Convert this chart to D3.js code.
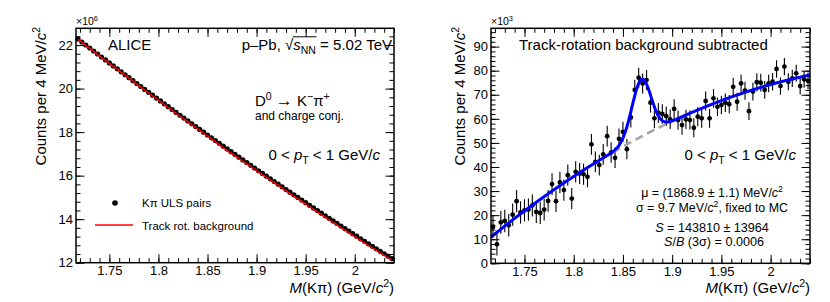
<!DOCTYPE html>
<html>
<head>
<meta charset="utf-8">
<script src="https://cdn.jsdelivr.net/npm/d3@7"></script>
<style>
  body { margin: 0; background: #fff; }
  svg { display: block; font-family: "Liberation Sans", Arial, Helvetica, sans-serif; }
</style>
</head>
<body>
<script>
var width = 830;
var height = 302;

// bin centres, 4 MeV/c2 bins from 1.716 to 2.040 GeV/c2
var massBins = d3.range(81).map(function(i) { return 1.718 + 0.004 * i; });

// K-pi ULS pair counts per bin (x10^6)
var ulsCounts = [
  22.280, 22.141, 22.003, 21.864, 21.727, 21.589, 21.452, 21.315, 21.178, 21.042,
  20.906, 20.770, 20.635, 20.500, 20.365, 20.231, 20.097, 19.963, 19.830, 19.697,
  19.564, 19.432, 19.299, 19.168, 19.036, 18.905, 18.774, 18.644, 18.513, 18.384,
  18.254, 18.125, 17.996, 17.867, 17.739, 17.611, 17.483, 17.356, 17.229, 17.102,
  16.976, 16.850, 16.724, 16.599, 16.474, 16.349, 16.225, 16.100, 15.977, 15.853,
  15.730, 15.607, 15.485, 15.362, 15.241, 15.119, 14.998, 14.877, 14.756, 14.636,
  14.516, 14.396, 14.277, 14.158, 14.039, 13.921, 13.803, 13.685, 13.568, 13.451,
  13.334, 13.218, 13.101, 12.986, 12.870, 12.755, 12.640, 12.526, 12.411, 12.298,
  12.184
];

// background-subtracted counts per bin (x10^3)
var subCounts = [
  15.1, 7.9, 17.0, 17.6, 15.8, 20.2, 25.8, 21.1, 22.0, 22.3,
  24.0, 21.3, 20.9, 22.3, 25.9, 32.9, 25.8, 33.6, 30.4, 36.6,
  26.9, 38.0, 37.3, 37.0, 35.9, 49.4, 42.1, 40.8, 45.2, 52.8,
  46.0, 43.8, 51.7, 54.6, 47.4, 60.6, 72.0, 77.1, 74.7, 76.1,
  66.7, 60.2, 62.5, 62.0, 61.1, 59.8, 64.1, 59.5, 57.4, 59.8,
  59.5, 56.3, 60.9, 60.2, 67.4, 60.2, 68.5, 65.0, 65.7, 66.7,
  66.1, 73.3, 67.1, 74.7, 71.7, 63.2, 71.3, 75.2, 75.0, 72.0,
  74.7, 75.4, 80.7, 73.6, 81.7, 75.4, 76.8, 78.9, 73.6, 76.4,
  75.8
];

// statistical errors (x10^3) from the ULS counts
var subErrors = ulsCounts.map(function(v) { return Math.sqrt(v * 1e6) / 1e3; });

// track-rotation background = ULS - subtracted (x10^6)
var rotBackground = ulsCounts.map(function(v, i) { return v - subCounts[i] / 1000; });

// fit: pol2 background around m0 + gaussian (x10^3 per bin)
var bgCoef = [54.6, 207.7, -383];
var bgRef = 1.878;
var gausPar = [23.7, 1.8689, 0.0097];

var xTicks = [1.75, 1.8, 1.85, 1.9, 1.95, 2];
var yTicksLeft = [12, 14, 16, 18, 20, 22];
var yTicksRight = [0, 10, 20, 30, 40, 50, 60, 70, 80, 90];

var svg = d3.select("body").append("svg")
  .attr("width", width)
  .attr("height", height);

svg.append("rect").attr("width", width).attr("height", height).attr("fill", "#fff");

var xL = d3.scaleLinear().domain([1.716, 2.04]).range([76, 394]);
var yL = d3.scaleLinear().domain([12, 22.77]).range([262.7, 28.3]);
var xR = d3.scaleLinear().domain([1.716, 2.04]).range([491, 810]);
var yR = d3.scaleLinear().domain([0, 97.6]).range([263.3, 28.3]);

function fitBg(m) {
  var t = m - bgRef;
  return bgCoef[0] + bgCoef[1] * t + bgCoef[2] * t * t;
}
function fitTotal(m) {
  var z = (m - gausPar[1]) / gausPar[2];
  return fitBg(m) + gausPar[0] * Math.exp(-0.5 * z * z);
}

// text with sub/superscripts
function rich(sel, parts, size) {
  var cur = 0;
  parts.forEach(function(p) {
    if (typeof p === "string") p = { t: p };
    var shift = p.sup ? -0.38 * size : (p.sub ? 0.28 * size : 0);
    var ts = sel.append("tspan").text(p.t).attr("dy", shift - cur);
    cur = shift;
    if (p.sup || p.sub) ts.attr("font-size", size * 0.7);
    if (p.it) ts.attr("font-style", "italic");
    if (p.big) ts.attr("font-size", p.big);
  });
  return sel;
}

function label(x, y, size, parts, anchor) {
  var t = svg.append("text")
    .attr("x", x).attr("y", y)
    .attr("font-size", size)
    .attr("text-anchor", anchor || "start")
    .attr("fill", "#000");
  return rich(t, parts, size);
}

function frame(x, y, xTickVals, yTickVals, yMinorStep, yFmt) {
  var x0 = x.range()[0], x1 = x.range()[1];
  var y0 = y.range()[1], y1 = y.range()[0];
  var xMinor = d3.range(1.72, 2.0401, 0.01);
  var yMinor = d3.range(y.domain()[0], y.domain()[1], yMinorStep);
  var g = svg.append("g");

  g.append("g").attr("transform", "translate(0," + y1 + ")")
    .call(d3.axisBottom(x).tickValues(xTickVals).tickSize(-8.5).tickPadding(3)
      .tickFormat(function(d) { return String(+d.toFixed(2)); }));
  g.append("g").attr("transform", "translate(0," + y1 + ")")
    .call(d3.axisBottom(x).tickValues(xMinor).tickSize(-4.5).tickFormat(""));
  g.append("g").attr("transform", "translate(0," + y0 + ")")
    .call(d3.axisTop(x).tickValues(xTickVals).tickSize(-8.5).tickFormat(""));
  g.append("g").attr("transform", "translate(0," + y0 + ")")
    .call(d3.axisTop(x).tickValues(xMinor).tickSize(-4.5).tickFormat(""));

  g.append("g").attr("transform", "translate(" + x0 + ",0)")
    .call(d3.axisLeft(y).tickValues(yTickVals).tickSize(-8.5).tickPadding(3).tickFormat(yFmt));
  g.append("g").attr("transform", "translate(" + x0 + ",0)")
    .call(d3.axisLeft(y).tickValues(yMinor).tickSize(-4.5).tickFormat(""));
  g.append("g").attr("transform", "translate(" + x1 + ",0)")
    .call(d3.axisRight(y).tickValues(yTickVals).tickSize(-8.5).tickFormat(""));
  g.append("g").attr("transform", "translate(" + x1 + ",0)")
    .call(d3.axisRight(y).tickValues(yMinor).tickSize(-4.5).tickFormat(""));

  g.selectAll(".domain").remove();
  g.selectAll(".tick line").attr("stroke", "#000").attr("stroke-width", 1);
  g.selectAll("text")
    .attr("font-size", 13)
    .attr("font-family", "'Liberation Sans', Arial, Helvetica, sans-serif")
    .attr("fill", "#000");

  g.append("rect")
    .attr("x", x0).attr("y", y0)
    .attr("width", x1 - x0).attr("height", y1 - y0)
    .attr("fill", "none").attr("stroke", "#000").attr("stroke-width", 1.5);
}

// ---------- left panel ----------
var dotsL = svg.append("g");
dotsL.selectAll("line")
  .data(massBins).enter().append("line")
  .attr("x1", function(d) { return xL(d); })
  .attr("x2", function(d) { return xL(d); })
  .attr("y1", function(d, i) { return yL(ulsCounts[i] - subErrors[i] / 1000); })
  .attr("y2", function(d, i) { return yL(ulsCounts[i] + subErrors[i] / 1000); })
  .attr("stroke", "#000");
dotsL.selectAll("circle")
  .data(massBins).enter().append("circle")
  .attr("cx", function(d) { return xL(d); })
  .attr("cy", function(d, i) { return yL(ulsCounts[i]); })
  .attr("r", 2.6)
  .attr("fill", "#000");

svg.append("path")
  .datum(massBins)
  .attr("fill", "none")
  .attr("stroke", "#ff0000")
  .attr("stroke-width", 1.5)
  .attr("d", d3.line()
    .x(function(d) { return xL(d); })
    .y(function(d, i) { return yL(rotBackground[i]); }));

frame(xL, yL, xTicks, yTicksLeft, 0.4, function(d) { return d; });

// ---------- right panel ----------
svg.append("clipPath").attr("id", "clipR")
  .append("rect").attr("x", 491).attr("y", 28.3).attr("width", 319).attr("height", 235);

var ptsR = svg.append("g");
ptsR.selectAll("line")
  .data(massBins).enter().append("line")
  .attr("x1", function(d) { return xR(d); })
  .attr("x2", function(d) { return xR(d); })
  .attr("y1", function(d, i) { return yR(subCounts[i] - subErrors[i]); })
  .attr("y2", function(d, i) { return yR(subCounts[i] + subErrors[i]); })
  .attr("stroke", "#000")
  .attr("stroke-width", 1.1);
ptsR.selectAll("circle")
  .data(massBins).enter().append("circle")
  .attr("cx", function(d) { return xR(d); })
  .attr("cy", function(d, i) { return yR(subCounts[i]); })
  .attr("r", 2.4)
  .attr("fill", "#000");

var fineMass = d3.range(1.716, 2.0401, 0.0005);
var bgMass = d3.range(gausPar[1] - 3 * gausPar[2], gausPar[1] + 3 * gausPar[2], 0.0005);

svg.append("path")
  .datum(bgMass)
  .attr("clip-path", "url(#clipR)")
  .attr("fill", "none")
  .attr("stroke", "#a6a6a6")
  .attr("stroke-width", 2.6)
  .attr("stroke-dasharray", "8,5")
  .attr("d", d3.line().x(function(d) { return xR(d); }).y(function(d) { return yR(fitBg(d)); }));

svg.append("path")
  .datum(fineMass)
  .attr("clip-path", "url(#clipR)")
  .attr("fill", "none")
  .attr("stroke", "#0000ff")
  .attr("stroke-width", 3)
  .attr("stroke-linejoin", "round")
  .attr("d", d3.line().x(function(d) { return xR(d); }).y(function(d) { return yR(fitTotal(d)); }));

frame(xR, yR, xTicks, yTicksRight, 2, function(d) { return d; });

// ---------- axis titles ----------
label(394, 293, 15, [{ t: "M", it: true }, "(K\u03c0) (GeV/", { t: "c", it: true }, { t: "2", sup: true }, ")"], "end");
label(810, 293, 15, [{ t: "M", it: true }, "(K\u03c0) (GeV/", { t: "c", it: true }, { t: "2", sup: true }, ")"], "end");

function yTitle(x) {
  var t = svg.append("text")
    .attr("transform", "translate(" + x + ",27) rotate(-90)")
    .attr("font-size", 15)
    .attr("text-anchor", "end");
  rich(t, ["Counts per 4 MeV/", { t: "c", it: true }, { t: "2", sup: true }], 15);
}
yTitle(46);
yTitle(465);

label(76, 25, 10.5, ["\u00d710", { t: "6", sup: true }]);
label(491, 25, 10.5, ["\u00d710", { t: "3", sup: true }]);

// ---------- left panel texts ----------
label(108, 50, 15, ["ALICE"]);
var sq = label(392, 50, 15, ["p\u2013Pb, \u221a", { t: "s", it: true }, { t: "NN", sub: true }, " = 5.02 TeV"], "end");
var sqNode = sq.node();
var e0 = sqNode.getExtentOfChar(6), e2 = sqNode.getExtentOfChar(9);
svg.append("line")
  .attr("x1", e0.x + e0.width - 0.5).attr("x2", e2.x + e2.width + 0.5)
  .attr("y1", e0.y + 0.8).attr("y2", e0.y + 0.8)
  .attr("stroke", "#000").attr("stroke-width", 1);

label(255, 106, 15, ["D", { t: "0", sup: true }, " ", { t: "\u2192", big: 17 }, " K", { t: "\u2212", sup: true }, "\u03c0", { t: "+", sup: true }]);
label(255, 120, 12, ["and charge conj."]);
label(380, 160, 15, ["0 < ", { t: "p", it: true }, { t: "T", sub: true }, " < 1 GeV/", { t: "c", it: true }], "end");

svg.append("circle").attr("cx", 115).attr("cy", 203).attr("r", 2.8).attr("fill", "#000");
label(142, 207, 11.5, ["K\u03c0 ULS pairs"]);
svg.append("line").attr("x1", 95).attr("x2", 133).attr("y1", 225).attr("y2", 225)
  .attr("stroke", "#ff0000").attr("stroke-width", 1.5);
label(142, 230, 11.5, ["Track rot. background"]);

// ---------- right panel texts ----------
label(519, 50, 15, ["Track-rotation background subtracted"]);
label(796, 160, 15, ["0 < ", { t: "p", it: true }, { t: "T", sub: true }, " < 1 GeV/", { t: "c", it: true }], "end");
label(712, 196.5, 12.4, ["\u03bc = (1868.9 \u00b1 1.1) MeV/", { t: "c", it: true }, { t: "2", sup: true }], "middle");
label(712, 211.5, 12.4, ["\u03c3 = 9.7 MeV/", { t: "c", it: true }, { t: "2", sup: true }, ", fixed to MC"], "middle");
label(712, 231.5, 12.6, [{ t: "S", it: true }, " = 143810 \u00b1 13964"], "middle");
label(714, 245.5, 12.6, [{ t: "S", it: true }, "/", { t: "B", it: true }, " (3\u03c3) = 0.0006"], "middle");
</script>
</body>
</html>
